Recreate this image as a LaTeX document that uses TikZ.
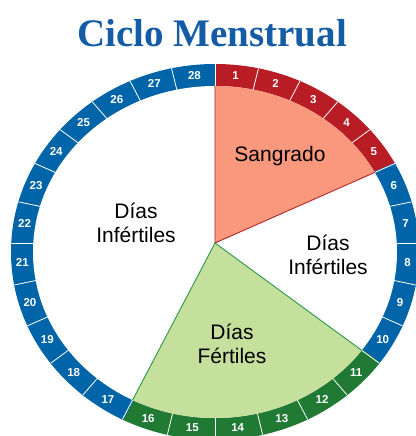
\documentclass[tikz,border=0pt]{standalone}
\usepackage{fontspec}
\setmainfont{Liberation Sans}
\newfontfamily\titlefont{Liberation Serif}
\definecolor{ringblue}{RGB}{0,101,168}
\definecolor{ringred}{RGB}{184,28,36}
\definecolor{ringgreen}{RGB}{32,122,52}
\definecolor{salmonfill}{RGB}{249,152,125}
\definecolor{lightgreen}{RGB}{197,223,157}
\definecolor{wedgegreen}{RGB}{44,150,72}
\definecolor{wedgered}{RGB}{178,40,40}
\definecolor{titleblue}{RGB}{20,92,165}
% t along direction (1.09cos a, sin a) from apex (215,243) to ellipse centred (215,252)
\newcommand{\raypar}[3]{%
  \pgfmathsetmacro{\rCo}{1.09*cos(#1)}%
  \pgfmathsetmacro{\rSi}{sin(#1)}%
  \pgfmathsetmacro{\rQa}{\rCo*\rCo/(#2*#2)+\rSi*\rSi/(#3*#3)}%
  \pgfmathsetmacro{\rQb}{0.18*\rSi/(#3*#3)}%
  \pgfmathsetmacro{\rQc}{0.0081/(#3*#3)-1}%
  \pgfmathsetmacro{\rLen}{(-\rQb+sqrt(\rQb*\rQb-4*\rQa*\rQc))/(2*\rQa)}%
}
\tikzset{
  numlbl/.style={text=white,font=\bfseries\fontsize{11.5}{13}\selectfont,inner sep=0pt},
  biglbl/.style={text=black,font=\fontsize{21}{24}\selectfont,align=center,inner sep=0pt},
  divider/.style={white,line width=0.8pt},
}
\begin{document}
\begin{tikzpicture}[x=1pt,y=-1pt]
\useasboundingbox (0,0) rectangle (415,436);
\fill[white] (0,0) rectangle (415,436);
\coordinate (A) at (215,243);
\coordinate (C) at (215,252);
% ring
\begin{scope}
  \clip (C) ellipse [x radius=204,y radius=188];
  \foreach \k/\col in {1/ringred,2/ringred,3/ringred,4/ringred,5/ringred,
     6/ringblue,7/ringblue,8/ringblue,9/ringblue,10/ringblue,
     11/ringgreen,12/ringgreen,13/ringgreen,14/ringgreen,15/ringgreen,16/ringgreen,
     17/ringblue,18/ringblue,19/ringblue,20/ringblue,21/ringblue,22/ringblue,
     23/ringblue,24/ringblue,25/ringblue,26/ringblue,27/ringblue,28/ringblue}{
    \pgfmathsetmacro{\aS}{90-(\k-1)*360/28+0.3}
    \pgfmathsetmacro{\aE}{90-\k*360/28-0.3}
    \fill[\col] (A) -- ({215+1000*1.09*cos(\aS)},{243-1000*sin(\aS)})
       -- ({215+1000*1.09*cos(\aE)},{243-1000*sin(\aE)}) -- cycle;
  }
  \foreach \j in {0,...,27}{
    \pgfmathsetmacro{\aD}{90-\j*360/28}
    \draw[divider] (A) -- ({215+1000*1.09*cos(\aD)},{243-1000*sin(\aD)});
  }
\end{scope}
\fill[white] (C) ellipse [x radius=182,y radius=166];
% wedges
\raypar{90}{1.82}{1.66}
\coordinate (w0) at ({215+100*\rLen*\rCo},{243-100*\rLen*\rSi});
\raypar{25.7143}{1.82}{1.66}
\coordinate (w5) at ({215+100*\rLen*\rCo},{243-100*\rLen*\rSi});
\raypar{-38.5714}{1.82}{1.66}
\coordinate (w10) at ({215+100*\rLen*\rCo},{243-100*\rLen*\rSi});
\raypar{-115.7143}{1.82}{1.66}
\coordinate (w16) at ({215+100*\rLen*\rCo},{243-100*\rLen*\rSi});
\begin{scope}
  \clip (C) ellipse [x radius=182,y radius=166];
  \fill[salmonfill] (A) -- ({215+1000*1.09*cos(90)},{243-1000*sin(90)})
     -- ({215+1000*1.09*cos(57.86)},{243-1000*sin(57.86)})
     -- ({215+1000*1.09*cos(25.7143)},{243-1000*sin(25.7143)}) -- cycle;
  \fill[lightgreen] (A) -- ({215+1000*1.09*cos(-38.5714)},{243-1000*sin(-38.5714)})
     -- ({215+1000*1.09*cos(-77.14)},{243-1000*sin(-77.14)})
     -- ({215+1000*1.09*cos(-115.7143)},{243-1000*sin(-115.7143)}) -- cycle;
\end{scope}
\draw[wedgered,line width=0.9pt] (w0) -- (A) -- (w5);
\draw[wedgegreen,line width=0.9pt] (w10) -- (A) -- (w16);
% day numbers
\foreach \k in {1,...,28}{
  \pgfmathsetmacro{\aM}{90-(\k-0.5)*360/28}
  \raypar{\aM}{1.82}{1.66}
  \pgfmathsetmacro{\tIn}{\rLen}
  \raypar{\aM}{2.04}{1.88}
  \pgfmathsetmacro{\tMid}{(\tIn+\rLen)/2}
  \node[numlbl] (n\k) at ({215+100*\tMid*\rCo},{243-100*\tMid*\rSi}) {\k};
}
% labels
\node[biglbl] (sang) at (280,156) {Sangrado};
\node[biglbl] (infl) at (136,223) {Días\\Infértiles};
\node[biglbl] (infr) at (328,255) {Días\\Infértiles};
\node[biglbl] (fert) at (232,344) {Días\\Fértiles};
% title
\node[anchor=base,inner sep=0pt,text=titleblue] (title) at (212,47)
  {\titlefont\bfseries\fontsize{39}{44}\selectfont Ciclo Menstrual};
\end{tikzpicture}
\end{document}
